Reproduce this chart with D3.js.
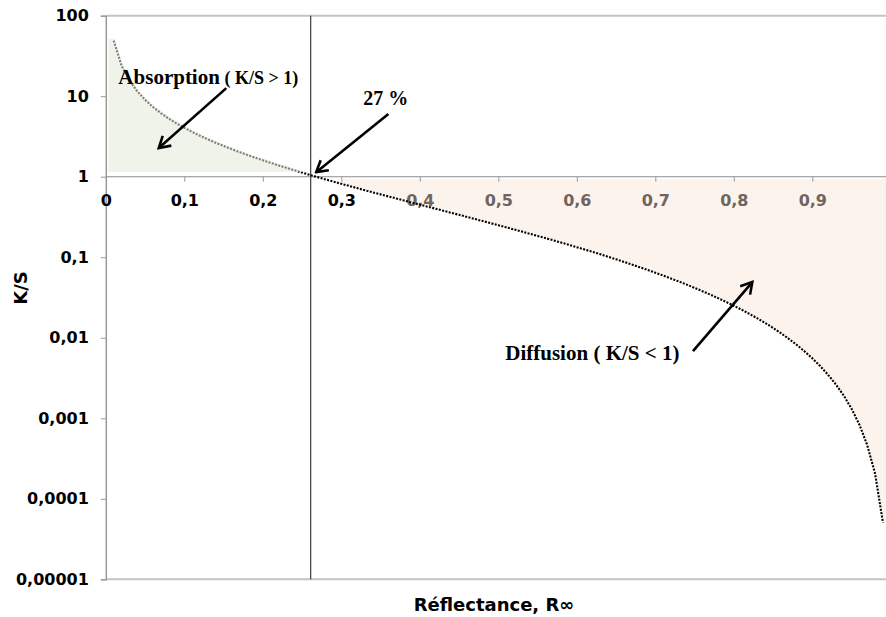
<!DOCTYPE html>
<html><head><meta charset="utf-8">
<script src="https://cdn.jsdelivr.net/npm/d3@7"></script>
<style>body{margin:0;background:#fff;overflow:hidden}</style>
</head><body><svg id="c" width="886" height="617"></svg>
<script>
// ---- data ----
const reflectance = [0.01,0.02,0.03,0.04,0.05,0.06,0.07,0.08,0.09,0.10,
  0.11,0.12,0.13,0.14,0.15,0.16,0.17,0.18,0.19,0.20,
  0.21,0.22,0.23,0.24,0.25,0.26,0.27,0.28,0.29,0.30,
  0.31,0.32,0.33,0.34,0.35,0.36,0.37,0.38,0.39,0.40,
  0.41,0.42,0.43,0.44,0.45,0.46,0.47,0.48,0.49,0.50,
  0.51,0.52,0.53,0.54,0.55,0.56,0.57,0.58,0.59,0.60,
  0.61,0.62,0.63,0.64,0.65,0.66,0.67,0.68,0.69,0.70,
  0.71,0.72,0.73,0.74,0.75,0.76,0.77,0.78,0.79,0.80,
  0.81,0.82,0.83,0.84,0.85,0.86,0.87,0.88,0.89,0.90,
  0.91,0.92,0.93,0.94,0.95,0.96,0.97,0.98,0.99];
const ksValues = [49.0,24.01,15.68,11.52,9.025,7.363,6.178,5.29,4.601,4.05,
  3.6,3.227,2.911,2.641,2.408,2.205,2.026,1.868,1.727,1.6,
  1.486,1.383,1.289,1.203,1.125,1.053,0.9869,0.9257,0.8691,0.8167,
  0.7679,0.7225,0.6802,0.6406,0.6036,0.5689,0.5364,0.5058,0.4771,0.45,
  0.4245,0.4005,0.3778,0.3564,0.3361,0.317,0.2988,0.2817,0.2654,0.25,
  0.2354,0.2215,0.2084,0.1959,0.1841,0.1729,0.1622,0.1521,0.1425,0.1333,
  0.1247,0.1165,0.1087,0.1013,0.09423,0.08758,0.08127,0.07529,0.06964,0.06429,
  0.05923,0.05444,0.04993,0.04568,0.04167,0.03789,0.03435,0.03103,0.02791,0.025,
  0.02228,0.01976,0.01741,0.01524,0.01324,0.0114,0.009713,0.008182,0.006798,0.005556,
  0.004451,0.003478,0.002634,0.001915,0.001316,0.0008333,0.0004639,0.0002041,0.0000505];
const xTicks = [0,0.1,0.2,0.3,0.4,0.5,0.6,0.7,0.8,0.9];
const xTickLabels = ["0","0,1","0,2","0,3","0,4","0,5","0,6","0,7","0,8","0,9"];
const yTicks = [100,10,1,0.1,0.01,0.001,0.0001,0.00001];
const yTickLabels = ["100","10","1","0,1","0,01","0,001","0,0001","0,00001"];
const markerR = 0.261;          // vertical reference line
const xTitle = "Réflectance, R∞";
const yTitle = "K/S";
// annotations in data coordinates [R, K/S]
const annotations = [
  {parts:[["Absorption",21],[" ( K/S > 1)",18]], at:[0.016,14.2], from:[0.1535,12.6], to:[0.0675,2.27]},
  {parts:[["27 %",20]], at:[0.328,7.78], from:[0.36,6.0], to:[0.268,1.14]},
  {parts:[["Diffusion ( K/S < 1)",21]], at:[0.5089,0.00528], from:[0.748,0.00684], to:[0.8236,0.0492]}
];

// ---- scales ----
const svg = d3.select("#c");
const x = d3.scaleLinear().domain([0,1]).range([105.8,890.8]);
const y = d3.scaleLog().domain([0.00001,100]).range([579.3,15.7]);
const pts = reflectance.map((r,i)=>[r,ksValues[i]]);
const line = d3.line().x(d=>x(d[0])).y(d=>y(d[1]));

// orange (diffusion) zone
const orange = [[0.30,0.94]].concat(pts.filter(d=>d[0]>=0.30)).concat([[1,0.0000505],[1,0.94]]);
svg.append("path").attr("d", line(orange)+"Z").attr("fill","#fdf3ed");

// borders
svg.append("line").attr("x1",x(0)).attr("x2",886).attr("y1",y(100)).attr("y2",y(100))
  .attr("stroke","#c4c4c4").attr("stroke-width",2);
svg.append("line").attr("x1",x(0)).attr("x2",886).attr("y1",y(0.00001)).attr("y2",y(0.00001))
  .attr("stroke","#c4c4c4").attr("stroke-width",2);

// y axis
const yAxis = svg.append("g").attr("transform",`translate(${x(0)},0)`)
  .call(d3.axisLeft(y).tickValues(yTicks).tickFormat((d,i)=>yTickLabels[i]).tickSize(5).tickPadding(12));
yAxis.select(".domain").attr("stroke","#9a9a9a").attr("stroke-width",1.5);
yAxis.selectAll(".tick line").attr("stroke","#9a9a9a");
yAxis.selectAll("text").attr("font-family","DejaVu Sans").attr("font-weight","bold")
  .attr("font-size",16).attr("fill","#000");

// x axis at K/S = 1
const xAxis = svg.append("g").attr("transform",`translate(0,${y(1)})`)
  .call(d3.axisBottom(x).tickValues(xTicks).tickFormat((d,i)=>xTickLabels[i]).tickSize(5).tickPadding(13));
xAxis.select(".domain").attr("d",`M${x(0)},0H886`).attr("stroke","#8c8c8c").attr("stroke-width",1.2);
xAxis.selectAll(".tick line").attr("stroke","#9a9a9a");
xAxis.selectAll("text").attr("font-family","DejaVu Sans").attr("font-weight","bold")
  .attr("font-size",16).attr("fill",d=>d>=0.35?"#6e6561":"#000");
xAxis.selectAll(".tick").filter(d=>d===0).select("line").remove();

// vertical reference line
svg.append("line").attr("x1",x(markerR)).attr("x2",x(markerR)).attr("y1",y(100)).attr("y2",y(0.00001))
  .attr("stroke","#3a3a3a").attr("stroke-width",1.2);

// curve
svg.append("path").attr("d",line(pts)).attr("fill","none").attr("stroke","#000")
  .attr("stroke-width",2.1).attr("stroke-dasharray","2,1.4");

// green (absorption) zone, semi-transparent over the curve
const green = [[0.002,50]].concat(pts.filter(d=>d[0]<=0.25)).concat([[0.256,1.1],[0.002,1.1]]);
svg.append("path").attr("d", line(green)+"Z").attr("fill","rgb(228,234,216)").attr("fill-opacity",0.55)
  .attr("transform","translate(1,-1.5)");

// titles
svg.append("text").attr("x",494).attr("y",611).attr("text-anchor","middle")
  .attr("font-family","DejaVu Sans").attr("font-weight","bold").attr("font-size",18).text(xTitle);
svg.append("text").attr("transform","translate(27,288) rotate(-90)").attr("text-anchor","middle")
  .attr("font-family","DejaVu Sans").attr("font-weight","bold").attr("font-size",18).text(yTitle);

// arrows
const defs = svg.append("defs");
defs.append("marker").attr("id","ah").attr("markerUnits","userSpaceOnUse")
  .attr("viewBox","-14 -8 16 16").attr("markerWidth",16).attr("markerHeight",16)
  .attr("refX",0).attr("refY",0).attr("orient","auto")
  .append("path").attr("d","M-11,-6.5L0,0L-11,6.5").attr("fill","none").attr("stroke","#000")
  .attr("stroke-width",2.6).attr("stroke-linejoin","miter");

annotations.forEach(a=>{
  svg.append("line").attr("x1",x(a.from[0])).attr("y1",y(a.from[1]))
    .attr("x2",x(a.to[0])).attr("y2",y(a.to[1])).attr("stroke","#000").attr("stroke-width",2.6)
    .attr("marker-end","url(#ah)");
  const t = svg.append("text").attr("x",x(a.at[0])).attr("y",y(a.at[1]))
    .attr("font-family","Liberation Serif").attr("font-weight","bold");
  a.parts.forEach(p=>t.append("tspan").attr("font-size",p[1]).text(p[0]));
});
</script></body></html>
